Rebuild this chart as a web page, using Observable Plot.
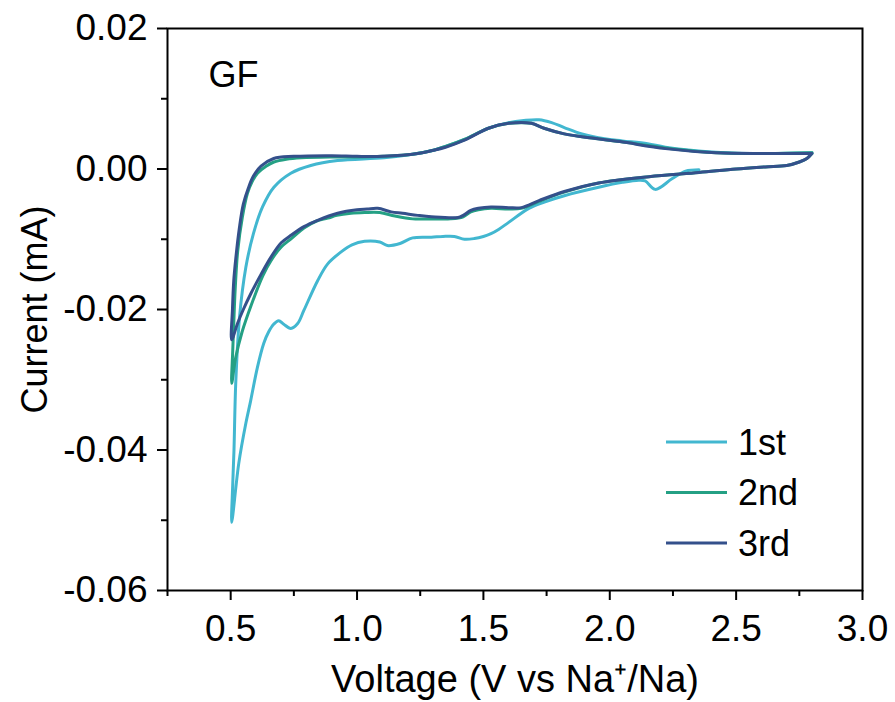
<!DOCTYPE html>
<html>
<head>
<meta charset="utf-8">
<script src="https://cdn.jsdelivr.net/npm/d3@7"></script>
<script src="https://cdn.jsdelivr.net/npm/@observablehq/plot@0.6"></script>
<style>
  html, body { margin: 0; padding: 0; background: #fff; }
  #chart { position: relative; width: 895px; height: 702px; }
</style>
</head>
<body>
<div id="chart"></div>
<script>
// ---- Data (voltage in V vs Na+/Na, current in mA), in scan order ----
const seriesNames = ["1st", "2nd", "3rd"];
const seriesColors = ["#42b7d0", "#24a084", "#34508b"];

const cycle1V = [2.353, 2.30, 2.246, 2.18, 2.14, 2.115, 2.05, 1.956, 1.82, 1.75, 1.68, 1.60, 1.56, 1.53, 1.50, 1.464, 1.425, 1.385, 1.34, 1.294, 1.22, 1.17, 1.12, 1.09, 1.03, 0.98, 0.937, 0.884, 0.844, 0.79, 0.765, 0.738, 0.71, 0.69, 0.67, 0.65, 0.631, 0.606, 0.579, 0.56, 0.532, 0.504,
  0.508, 0.513, 0.52, 0.535, 0.56, 0.59, 0.626, 0.671, 0.738, 0.817, 0.923, 1.107, 1.22, 1.294, 1.35, 1.425, 1.52, 1.60, 1.66, 1.72, 1.77, 1.82, 1.89, 1.98, 2.05, 2.15, 2.22, 2.42, 2.62, 2.80];
const cycle1I = [-0.0001, -0.0003, -0.0014, -0.0029, -0.0017, -0.0016, -0.0019, -0.0026, -0.0038, -0.0046, -0.0056, -0.0076, -0.0086, -0.0092, -0.0096, -0.0099, -0.0100, -0.0096, -0.0096, -0.0097, -0.0098, -0.0106, -0.0109, -0.0104, -0.0103, -0.0108, -0.0118, -0.0135, -0.0159, -0.0201, -0.0220, -0.0227, -0.0221, -0.0216, -0.0221, -0.0232, -0.0248, -0.0282, -0.0330, -0.0362, -0.0419, -0.0503,
  -0.0450, -0.0401, -0.0305, -0.0211, -0.0140, -0.0092, -0.0054, -0.0026, -0.0006, 0.0005, 0.0012, 0.0016, 0.0021, 0.0026, 0.0032, 0.0042, 0.0058, 0.0066, 0.0069, 0.0070, 0.0066, 0.0059, 0.0050, 0.0043, 0.0040, 0.0036, 0.0031, 0.0024, 0.0022, 0.0023];

const cycle2V = [2.80, 2.78, 2.75, 2.70, 2.615, 2.50, 2.353, 2.155, 1.956, 1.82, 1.72, 1.65, 1.60, 1.53, 1.48, 1.45, 1.42, 1.37, 1.294, 1.22, 1.15, 1.09, 1.03, 0.976, 0.92, 0.884, 0.84, 0.79, 0.74, 0.70, 0.66, 0.627, 0.58, 0.545, 0.52, 0.504,
  0.508, 0.512, 0.518, 0.528, 0.546, 0.566, 0.585, 0.606, 0.64, 0.671, 0.72, 0.78, 0.90, 1.00, 1.10, 1.22, 1.294, 1.35, 1.425, 1.52, 1.60, 1.65, 1.69, 1.74, 1.82, 1.93, 2.04, 2.22, 2.42, 2.62, 2.80];
const cycle2I = [0.0022, 0.0015, 0.0010, 0.0005, 0.0003, 0.0000, -0.0005, -0.0011, -0.0020, -0.0033, -0.0046, -0.0056, -0.0057, -0.0056, -0.0058, -0.0061, -0.0068, -0.0071, -0.0071, -0.0071, -0.0067, -0.0062, -0.0062, -0.0063, -0.0066, -0.0070, -0.0074, -0.0084, -0.0099, -0.0111, -0.0130, -0.0152, -0.0195, -0.0232, -0.0268, -0.0305,
  -0.0260, -0.0222, -0.0170, -0.0116, -0.0069, -0.0035, -0.0018, -0.0006, 0.0004, 0.0010, 0.0014, 0.0016, 0.0017, 0.0017, 0.0018, 0.0021, 0.0026, 0.0032, 0.0042, 0.0058, 0.0065, 0.0066, 0.0065, 0.0058, 0.0050, 0.0044, 0.0039, 0.0030, 0.0023, 0.0022, 0.0023];

const cycle3V = [2.80, 2.78, 2.75, 2.70, 2.615, 2.50, 2.353, 2.155, 1.956, 1.82, 1.72, 1.65, 1.60, 1.53, 1.48, 1.45, 1.42, 1.40, 1.294, 1.24, 1.18, 1.135, 1.082, 1.04, 1.00, 0.923, 0.844, 0.79, 0.74, 0.70, 0.66, 0.62, 0.579, 0.55, 0.527, 0.504,
  0.507, 0.512, 0.52, 0.534, 0.55, 0.57, 0.59, 0.62, 0.67, 0.75, 0.90, 1.00, 1.10, 1.24, 1.294, 1.35, 1.425, 1.52, 1.60, 1.69, 1.74, 1.82, 1.93, 2.04, 2.22, 2.42, 2.62, 2.80];
const cycle3I = [0.0022, 0.0015, 0.0010, 0.0005, 0.0003, 0.0000, -0.0005, -0.0011, -0.0020, -0.0032, -0.0045, -0.0055, -0.0055, -0.0054, -0.0056, -0.0059, -0.0066, -0.0069, -0.0068, -0.0066, -0.0063, -0.0061, -0.0056, -0.0057, -0.0058, -0.0063, -0.0073, -0.0082, -0.0094, -0.0105, -0.0125, -0.0150, -0.0178, -0.0200, -0.0220, -0.0243,
  -0.0200, -0.0160, -0.0128, -0.0085, -0.0050, -0.0027, -0.0010, 0.0004, 0.0015, 0.0018, 0.0019, 0.0018, 0.0018, 0.0022, 0.0026, 0.0031, 0.0041, 0.0058, 0.0065, 0.0065, 0.0058, 0.0050, 0.0044, 0.0039, 0.0029, 0.0023, 0.0022, 0.0022];

const xMajorTicks = [0.5, 1.0, 1.5, 2.0, 2.5, 3.0];
const xMinorTicks = [0.25, 0.75, 1.25, 1.75, 2.25, 2.75];
const yMajorTicks = [0.02, 0.00, -0.02, -0.04, -0.06];
const yMinorTicks = [0.01, -0.01, -0.03, -0.05];

// ---- Build table ----
const cyclesV = [cycle1V, cycle2V, cycle3V];
const cyclesI = [cycle1I, cycle2I, cycle3I];
const rows = [];
cyclesV.forEach((vs, k) => vs.forEach((v, i) => rows.push({cycle: seriesNames[k], V: v, I: cyclesI[k][i], order: i})));

const FONT = "'Liberation Sans', Arial, Helvetica, sans-serif";
const fmtY = (d) => d3.format(".2f")(d).replace("\u2212", "-");

const chart = Plot.plot({
  width: 895,
  height: 702,
  marginLeft: 167,
  marginRight: 33,
  marginTop: 28,
  marginBottom: 112,
  style: {fontFamily: FONT, fontSize: "37px", color: "#000", background: "#fff", overflow: "visible"},
  x: {domain: [0.25, 3.0]},
  y: {domain: [-0.06, 0.02]},
  color: {domain: seriesNames, range: seriesColors},
  marks: [
    Plot.line(rows, {x: "V", y: "I", z: "cycle", stroke: "cycle", strokeWidth: 3, curve: "catmull-rom"}),
    Plot.frame({stroke: "#000", strokeWidth: 2}),
    Plot.axisX({ticks: xMajorTicks, tickSize: 10, tickPadding: 14, strokeWidth: 2, tickFormat: d3.format(".1f"), label: null}),
    Plot.axisX({ticks: xMinorTicks, tickSize: 6, strokeWidth: 2, tickFormat: () => "", label: null}),
    Plot.axisY({ticks: yMajorTicks, tickSize: 10, tickPadding: 10, strokeWidth: 2, tickFormat: fmtY, label: null}),
    Plot.axisY({ticks: yMinorTicks, tickSize: 6, strokeWidth: 2, tickFormat: () => "", label: null}),
    Plot.text(["Voltage (V vs Na\u207A/Na)"], {frameAnchor: "bottom", dy: 89, textAnchor: "middle", lineAnchor: "middle", fontSize: 38}),
    Plot.text(["Current (mA)"], {frameAnchor: "left", dx: -132, rotate: -90, textAnchor: "middle", lineAnchor: "middle", fontSize: 36}),
    Plot.text(["GF"], {frameAnchor: "top-left", dx: 41, dy: 47, textAnchor: "start", lineAnchor: "middle", fontSize: 36})
  ]
});

document.getElementById("chart").appendChild(chart);

// ---- Legend inside the frame ----
const svg = d3.select(chart);
const leg = svg.append("g").attr("font-family", FONT).attr("font-size", 36).attr("text-anchor", "start");
seriesNames.forEach((name, i) => {
  const y = 442 + i * 50.5;
  leg.append("line").attr("x1", 666).attr("x2", 727).attr("y1", y).attr("y2", y)
    .attr("stroke", seriesColors[i]).attr("stroke-width", 3);
  leg.append("text").attr("x", 738).attr("y", y).attr("dy", "0.35em").attr("fill", "#000").attr("text-anchor", "start").text(name);
});
</script>
</body>
</html>
